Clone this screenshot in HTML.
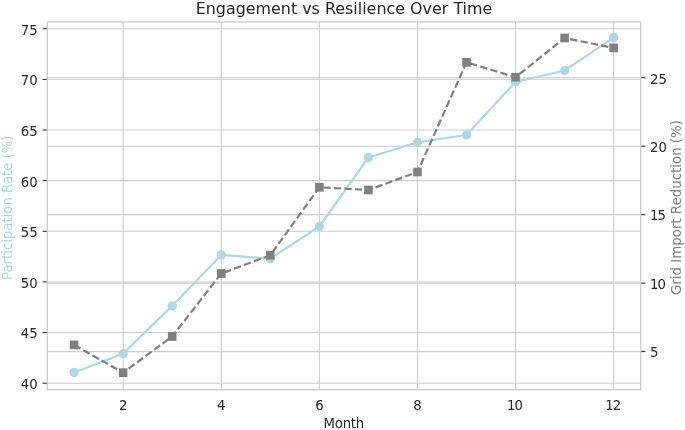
<!DOCTYPE html>
<html><head><meta charset="utf-8"><title>Engagement vs Resilience Over Time</title>
<style>html,body{margin:0;padding:0;background:#fff;}body{width:685px;height:430px;overflow:hidden;}svg{display:block;}text{font-family:"DejaVu Sans","Liberation Sans",sans-serif;}</style></head><body>
<svg width="685" height="430" viewBox="0 0 685 430">
<rect width="685" height="430" fill="#ffffff"/>
<g stroke="#cccccc" stroke-width="1.06" fill="none">
<line x1="47.3" y1="383.20" x2="640.7" y2="383.20"/>
<line x1="47.3" y1="332.56" x2="640.7" y2="332.56"/>
<line x1="47.3" y1="281.91" x2="640.7" y2="281.91"/>
<line x1="47.3" y1="231.27" x2="640.7" y2="231.27"/>
<line x1="47.3" y1="180.63" x2="640.7" y2="180.63"/>
<line x1="47.3" y1="129.99" x2="640.7" y2="129.99"/>
<line x1="47.3" y1="79.34" x2="640.7" y2="79.34"/>
<line x1="47.3" y1="28.70" x2="640.7" y2="28.70"/>
</g>
<g stroke="#262626" stroke-width="1.06">
<line x1="42.66" y1="383.20" x2="47.3" y2="383.20"/>
<line x1="42.66" y1="332.56" x2="47.3" y2="332.56"/>
<line x1="42.66" y1="281.91" x2="47.3" y2="281.91"/>
<line x1="42.66" y1="231.27" x2="47.3" y2="231.27"/>
<line x1="42.66" y1="180.63" x2="47.3" y2="180.63"/>
<line x1="42.66" y1="129.99" x2="47.3" y2="129.99"/>
<line x1="42.66" y1="79.34" x2="47.3" y2="79.34"/>
<line x1="42.66" y1="28.70" x2="47.3" y2="28.70"/>
</g>
<polyline points="74.10,372.50 123.15,353.60 172.20,305.90 221.25,254.90 270.30,258.70 319.35,226.50 368.40,157.50 417.45,142.30 466.50,135.00 515.55,81.90 564.60,70.50 613.65,37.60" fill="none" stroke="#add8e6" stroke-width="2.2" stroke-linejoin="round" stroke-linecap="round"/>
<g fill="#add8e6" stroke="#add8e6" stroke-width="1.33">
<circle cx="74.10" cy="372.50" r="3.98"/>
<circle cx="123.15" cy="353.60" r="3.98"/>
<circle cx="172.20" cy="305.90" r="3.98"/>
<circle cx="221.25" cy="254.90" r="3.98"/>
<circle cx="270.30" cy="258.70" r="3.98"/>
<circle cx="319.35" cy="226.50" r="3.98"/>
<circle cx="368.40" cy="157.50" r="3.98"/>
<circle cx="417.45" cy="142.30" r="3.98"/>
<circle cx="466.50" cy="135.00" r="3.98"/>
<circle cx="515.55" cy="81.90" r="3.98"/>
<circle cx="564.60" cy="70.50" r="3.98"/>
<circle cx="613.65" cy="37.60" r="3.98"/>
</g>
<g stroke="#cccccc" stroke-width="1.06" fill="none">
<line x1="123.15" y1="21.95" x2="123.15" y2="389.7"/>
<line x1="221.25" y1="21.95" x2="221.25" y2="389.7"/>
<line x1="319.35" y1="21.95" x2="319.35" y2="389.7"/>
<line x1="417.45" y1="21.95" x2="417.45" y2="389.7"/>
<line x1="515.55" y1="21.95" x2="515.55" y2="389.7"/>
<line x1="613.65" y1="21.95" x2="613.65" y2="389.7"/>
<line x1="47.3" y1="351.60" x2="640.7" y2="351.60"/>
<line x1="47.3" y1="283.12" x2="640.7" y2="283.12"/>
<line x1="47.3" y1="214.65" x2="640.7" y2="214.65"/>
<line x1="47.3" y1="146.18" x2="640.7" y2="146.18"/>
<line x1="47.3" y1="77.70" x2="640.7" y2="77.70"/>
</g>
<g stroke="#262626" stroke-width="1.06">
<line x1="640.7" y1="351.60" x2="645.34" y2="351.60"/>
<line x1="640.7" y1="283.12" x2="645.34" y2="283.12"/>
<line x1="640.7" y1="214.65" x2="645.34" y2="214.65"/>
<line x1="640.7" y1="146.18" x2="645.34" y2="146.18"/>
<line x1="640.7" y1="77.70" x2="645.34" y2="77.70"/>
</g>
<polyline points="74.10,344.90 123.15,372.70 172.20,336.50 221.25,273.50 270.30,255.20 319.35,187.30 368.40,190.00 417.45,172.00 466.50,62.30 515.55,77.20 564.60,38.00 613.65,47.90" fill="none" stroke="#808080" stroke-width="2.2" stroke-dasharray="7.36 3.18" stroke-linejoin="round"/>
<g fill="#808080" stroke="none">
<rect x="69.80" y="340.55" width="8.6" height="8.7"/>
<rect x="118.85" y="368.35" width="8.6" height="8.7"/>
<rect x="167.90" y="332.15" width="8.6" height="8.7"/>
<rect x="216.95" y="269.15" width="8.6" height="8.7"/>
<rect x="266.00" y="250.85" width="8.6" height="8.7"/>
<rect x="315.05" y="182.95" width="8.6" height="8.7"/>
<rect x="364.10" y="185.65" width="8.6" height="8.7"/>
<rect x="413.15" y="167.65" width="8.6" height="8.7"/>
<rect x="462.20" y="57.95" width="8.6" height="8.7"/>
<rect x="511.25" y="72.85" width="8.6" height="8.7"/>
<rect x="560.30" y="33.65" width="8.6" height="8.7"/>
<rect x="609.35" y="43.55" width="8.6" height="8.7"/>
</g>
<rect x="47.3" y="21.95" width="593.40" height="367.75" fill="none" stroke="#cccccc" stroke-width="1.33"/>
<g fill="#262626" font-size="13.26px">
<text x="37.62" y="389.10" text-anchor="end">40</text>
<text x="37.62" y="338.46" text-anchor="end">45</text>
<text x="37.62" y="287.81" text-anchor="end">50</text>
<text x="37.62" y="237.17" text-anchor="end">55</text>
<text x="37.62" y="186.53" text-anchor="end">60</text>
<text x="37.62" y="135.89" text-anchor="end">65</text>
<text x="37.62" y="85.24" text-anchor="end">70</text>
<text x="37.62" y="34.60" text-anchor="end">75</text>
<text x="649.98" y="357.40" text-anchor="start">5</text>
<text x="649.98" y="288.93" text-anchor="start" letter-spacing="-0.9">10</text>
<text x="649.98" y="220.45" text-anchor="start" letter-spacing="-0.9">15</text>
<text x="649.98" y="151.98" text-anchor="start">20</text>
<text x="649.98" y="83.50" text-anchor="start">25</text>
<text x="123.15" y="410.3" text-anchor="middle">2</text>
<text x="221.25" y="410.3" text-anchor="middle">4</text>
<text x="319.35" y="410.3" text-anchor="middle">6</text>
<text x="417.45" y="410.3" text-anchor="middle">8</text>
<text x="507.05" y="410.3" text-anchor="start" letter-spacing="-0.9">10</text>
<text x="605.15" y="410.3" text-anchor="start" letter-spacing="-0.9">12</text>
<text x="343.80" y="428.3" text-anchor="middle" letter-spacing="-0.2">Month</text>
</g>
<text x="344.00" y="13.6" text-anchor="middle" font-size="15.92px" fill="#262626">Engagement vs Resilience Over Time</text>
<text transform="translate(11.9,207.72) rotate(-90)" text-anchor="middle" font-size="13.26px" fill="#add8e6">Participation Rate (%)</text>
<text transform="translate(680.8,207.52) rotate(-90)" text-anchor="middle" font-size="13.36px" fill="#808080">Grid Import Reduction (%)</text>
</svg></body></html>
